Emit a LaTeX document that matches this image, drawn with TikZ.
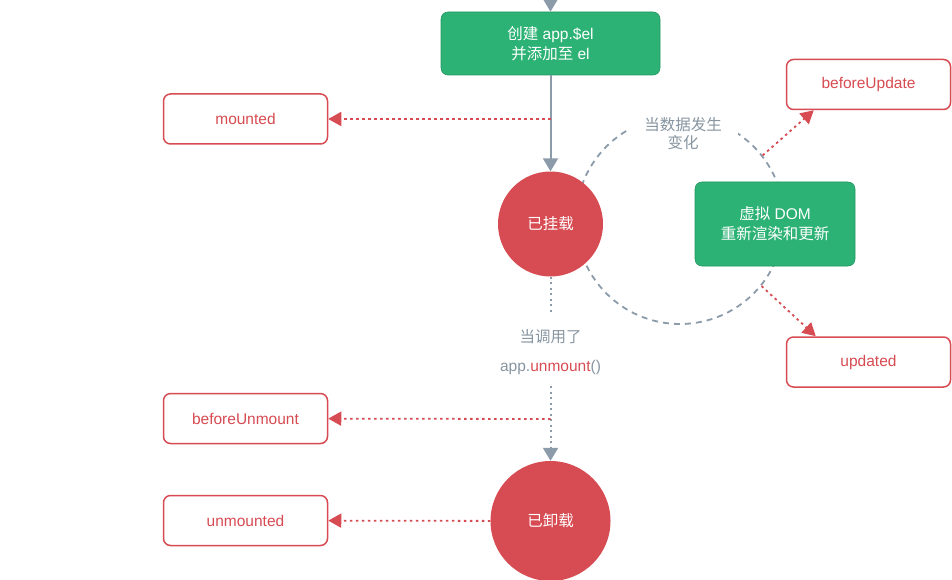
\documentclass[tikz,border=0pt]{standalone}
\usepackage{fontspec}
\setmainfont{Liberation Sans}
\newfontfamily\cjk{Noto Sans CJK SC}
\usepackage{xcolor}
\usepackage{tikz}
\usetikzlibrary{arrows.meta,positioning,calc}
\definecolor{hookred}{HTML}{D74B52}
\definecolor{vuegreen}{HTML}{2CB274}
\definecolor{flowgray}{HTML}{8B9BAA}
\definecolor{labelgray}{HTML}{8795A1}
\tikzstyle{hook}    =[draw=hookred, fill=white, line width=1.5pt, rounded corners=7pt, text=hookred,
                      minimum width=164pt, minimum height=50pt]
\tikzstyle{stepbox} =[fill=vuegreen, draw=vuegreen!85!black, line width=0.6pt, rounded corners=7pt,
                      text=white, align=center]
\tikzstyle{state}   =[circle, fill=hookred, text=white, inner sep=0pt]
\tikzstyle{flow}    =[-{Triangle[width=15pt,length=13pt]}, draw=flowgray, line width=2pt]
\tikzstyle{flowdot} =[draw=flowgray, line width=2pt, dash pattern=on 2pt off 3.5pt]
\tikzstyle{hookarr} =[-{Triangle[width=14pt,length=13pt]}, draw=hookred, line width=1.8pt,
                      dash pattern=on 2.5pt off 3.5pt]

\begin{document}
\begin{tikzpicture}[x=1pt, y=-1pt, every node/.style={font=\fontsize{15.5}{20}\selectfont}]
  \useasboundingbox (0,0) rectangle (952,580);

  % ── nodes ─────────────────────────────────────────────────────────────────
  \coordinate (top) at (550.5,-2);

  \node[stepbox, minimum width=219pt, minimum height=63pt] (app) at (550.5,43.5)
        {{\cjk 创建} app.\$el\\{\cjk 并添加至} el};

  \node[hook] (mounted) at (245.5,119) {mounted};

  \node[circle, draw=flowgray, line width=1.8pt, dash pattern=on 6pt off 5pt,
        minimum size=208pt, inner sep=0pt] (loop) at (680,220) {};

  \node[state, minimum size=105pt, font=\fontsize{15.5}{20}\selectfont\cjk] (mnt) at (550.5,224) {已挂载};

  \node[stepbox, minimum width=160pt, minimum height=84pt] (vdom) at (775,224)
        {{\cjk 虚拟} DOM\\{\cjk 重新渲染和更新}};

  \node[fill=white, text=labelgray, align=center, inner xsep=16pt, inner ysep=4pt,
        font=\fontsize{15.5}{18}\selectfont\cjk] (change) at (683,134) {当数据发生\\变化};

  \node[hook] (bu)  at (868.5,84.5) {beforeUpdate};
  \node[hook] (upd) at (868.5,362)  {updated};

  \node[text=labelgray, align=center] (call) at (550.5,352)
        {{\cjk 当调用了}\\[9pt]app.\textcolor{hookred}{unmount}()};

  \node[hook] (bum) at (245.5,418.5) {beforeUnmount};

  \node[state, minimum size=120pt, font=\fontsize{15.5}{20}\selectfont\cjk] (umt) at (550.5,521) {已卸载};

  \node[hook] (umd) at (245.5,520.5) {unmounted};

  \coordinate (m1) at (550.5,119);
  \coordinate (m2) at (550.5,419);

  % ── arrows ────────────────────────────────────────────────────────────────
  \draw[flow] (top) -- (app);
  \draw[flow] (app) -- (mnt);
  \draw[hookarr] (m1) -- (mounted);
  \draw[hookarr] (loop.38)  -- ($(bu.south west)+(28,0)$);
  \draw[hookarr] (loop.-39) -- ($(upd.north west)+(30,0)$);
  \draw[flowdot] (mnt) -- ([yshift=14pt]call.north);
  \draw[flowdot, -{Triangle[width=15pt,length=13pt]}] ([yshift=-8pt]call.south) -- (umt);
  \draw[hookarr] (m2) -- (bum);
  \draw[hookarr] (umt) -- (umd);

\end{tikzpicture}
\end{document}
